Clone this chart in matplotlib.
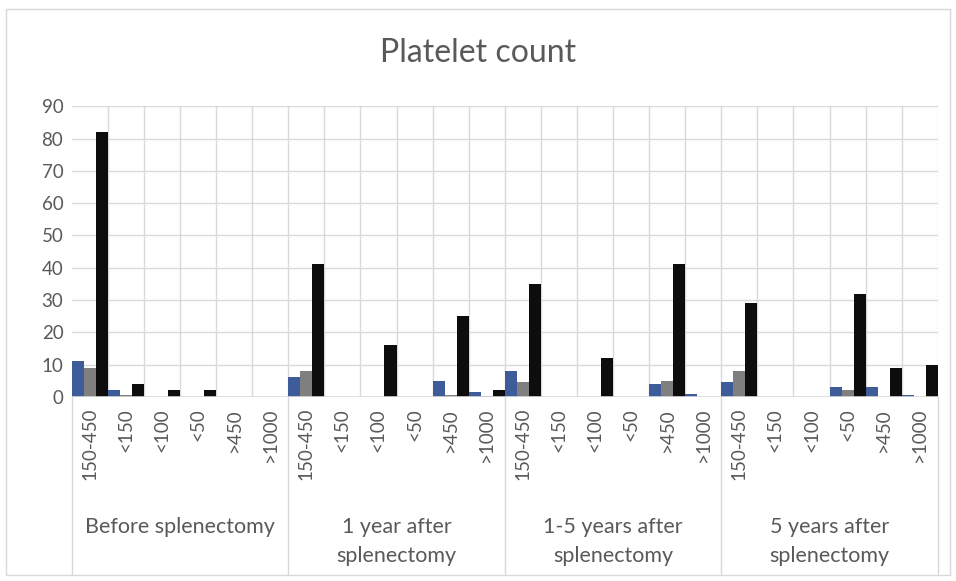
"""Platelet count — grouped bars by time after splenectomy."""
import matplotlib

matplotlib.use("Agg")
import matplotlib.pyplot as plt
from matplotlib.lines import Line2D
import numpy as np

plt.rcParams["font.family"] = ["Lato", "DejaVu Sans"]

groups = ["Before splenectomy", "1 year after\nsplenectomy",
          "1-5 years after\nsplenectomy", "5 years after\nsplenectomy"]
ranges = ["150-450", "<150", "<100", "<50", ">450", ">1000"]

blue = [11, 2, 0, 0, 0, 0,
        6, 0, 0, 0, 5, 1.5,
        8, 0, 0, 0, 4, 1,
        4.5, 0, 0, 3, 3, 0.5]
gray = [9, 0.5, 0, 0, 0, 0,
        8, 0, 0, 0, 0.5, 0.3,
        4.5, 0, 0, 0, 5, 0,
        8, 0, 0, 2, 0, 0]
black = [82, 4, 2, 2, 0, 0,
         41, 0, 16, 0, 25, 2,
         35, 0, 12, 0, 41, 0,
         29, 0, 0, 32, 9, 10]

BLUE, GRAY, BLACK = "#3d5c99", "#7f7f7f", "#0d0d0d"
TXT = "#595959"
GRID = "#d9d9d9"

fig = plt.figure(figsize=(9.56, 5.81), dpi=100)
ax = fig.add_axes([0.075, 0.317, 0.906, 0.5])

n = len(blue)
x = np.arange(n)
w = 1 / 3
ax.bar(x, blue, w, align="edge", color=BLUE, zorder=3)
ax.bar(x + w, gray, w, align="edge", color=GRAY, zorder=3)
ax.bar(x + 2 * w, black, w, align="edge", color=BLACK, zorder=3)

ax.set_xlim(0, n)
ax.set_ylim(0, 90)
ax.set_yticks(range(0, 91, 10))
ax.set_xticks(x + 0.5)
ax.set_xticklabels(ranges * len(groups), rotation=90, va="top")
ax.tick_params(axis="both", length=0, colors=TXT, labelsize=13.5)
ax.tick_params(axis="x", pad=8)
ax.tick_params(axis="y", pad=6)

for y in range(10, 91, 10):
    ax.axhline(y, color=GRID, lw=1, zorder=1)
for xv in range(1, n):
    ax.axvline(xv, color=GRID, lw=1, zorder=1)
for s in ax.spines.values():
    s.set_visible(False)
ax.axhline(0, color=GRID, lw=1.2, zorder=4)
ax.axvline(n, color=GRID, lw=1, zorder=1)

# group separators running down below the axis, and group labels
for g in range(len(groups) + 1):
    xv = g * len(ranges)
    ax.add_line(Line2D([xv, xv], [0, -0.61], transform=ax.get_xaxis_transform(),
                       color=GRID, lw=1, clip_on=False))
for g, name in enumerate(groups):
    xc = g * len(ranges) + len(ranges) / 2
    ax.text(xc, -0.413, name, transform=ax.get_xaxis_transform(), ha="center",
            va="top", fontsize=15.5, color=TXT, linespacing=1.6)

fig.text(0.5, 0.909, "Platelet count", ha="center", va="center", fontsize=23, color=TXT)
fig.add_artist(plt.Rectangle((0.006, 0.01), 0.988, 0.975, transform=fig.transFigure,
                             fill=False, ec="#d9d9d9", lw=1))

fig.savefig("out.png", dpi=100)
